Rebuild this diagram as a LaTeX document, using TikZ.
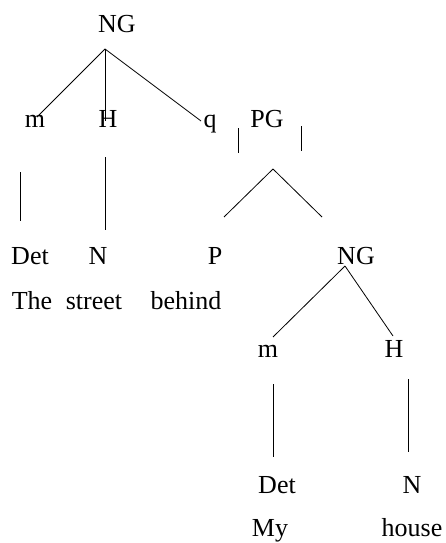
\documentclass[tikz,border=0pt]{standalone}
\usepackage{fontspec}
\setmainfont{Liberation Serif}
\begin{document}
\begin{tikzpicture}[x=1pt,y=-1pt,
  lbl/.style={anchor=base,inner sep=0pt,font=\fontsize{26}{30}\selectfont},
  branch/.style={line width=0.8pt}]
\useasboundingbox (0,0) rectangle (445,543);

% category and function labels
\foreach \name/\x/\y/\txt in {ng/117/33/NG, m/35/127/m, h/108/127/H, q/210/127/q,
    pg/267/127/PG, det/30/264/Det, n/98/264/N, p/215/264/P, ngb/356/264/NG,
    mb/268/357/m, hb/394/357/H, detb/277/493/Det, nb/412/493/N} {
  \node[lbl] (\name) at (\x,\y) {\txt};
}
% words
\foreach \name/\x/\y/\txt in {the/32/309/The, street/94/309/street, behind/186/309/behind,
    my/270/536/My, house/412/536/house} {
  \node[lbl] (\name) at (\x,\y) {\txt};
}

% branch ends
\coordinate (ngtop) at (105,49);
\coordinate (ngm) at (37,117);
\coordinate (ngh) at (105,121);
\coordinate (ngq) at (201,121);
\coordinate (pgla) at (238,128);
\coordinate (pglb) at (238,153);
\coordinate (pgra) at (301,126);
\coordinate (pgrb) at (301,151);
\coordinate (pgtop) at (273,169);
\coordinate (pgp) at (224,217);
\coordinate (pgng) at (322,217);
\coordinate (deta) at (20,172);
\coordinate (detb) at (20,221);
\coordinate (na) at (105,157);
\coordinate (nb) at (105,230);
\coordinate (ngbtop) at (345,266);
\coordinate (ngbm) at (273,337);
\coordinate (ngbh) at (393,336);
\coordinate (mba) at (273,384);
\coordinate (mbb) at (273,457);
\coordinate (hba) at (408,379);
\coordinate (hbb) at (408,452);

% branches
\foreach \a/\b in {ngtop/ngm, ngtop/ngh, ngtop/ngq, pgla/pglb, pgra/pgrb,
    pgtop/pgp, pgtop/pgng, deta/detb, na/nb, ngbtop/ngbm, ngbtop/ngbh,
    mba/mbb, hba/hbb} {
  \draw[branch] (\a) -- (\b);
}
\end{tikzpicture}
\end{document}
